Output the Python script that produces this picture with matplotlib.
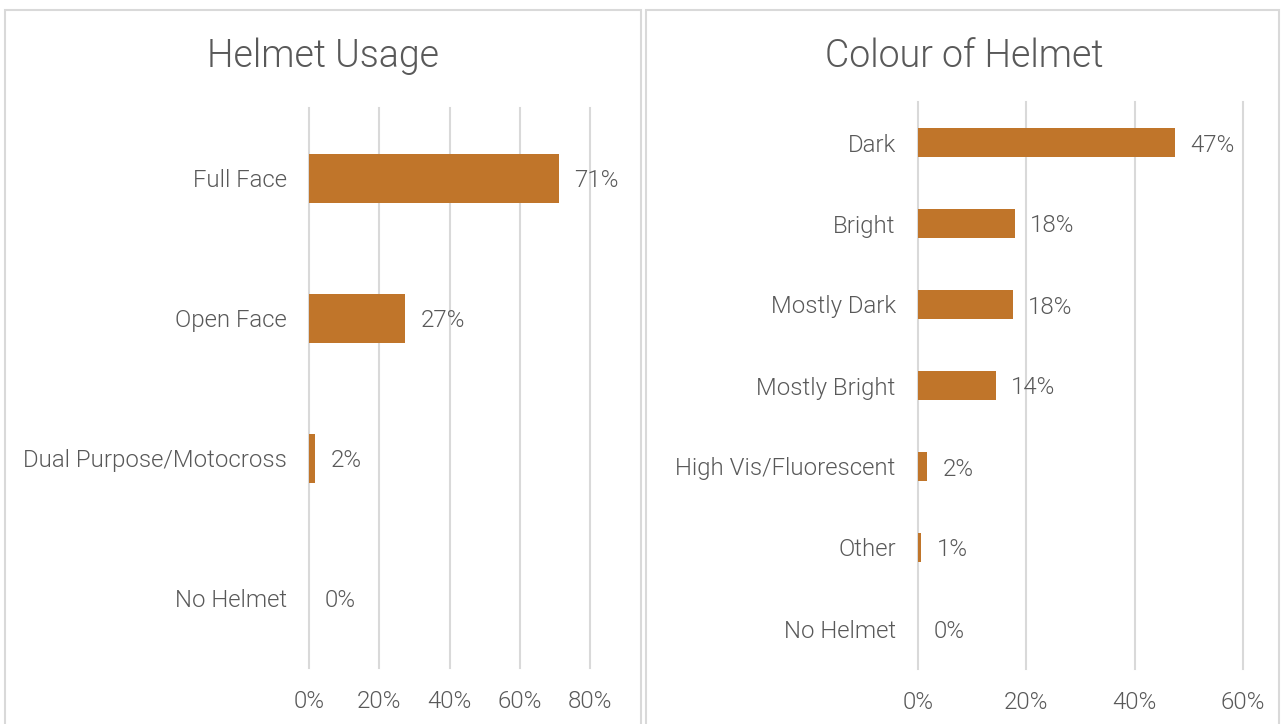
"""Helmet usage and helmet colour bar charts."""

import matplotlib.pyplot as plt
from matplotlib.patches import Rectangle
from matplotlib.ticker import PercentFormatter

plt.rcParams['font.family'] = ['Roboto', 'DejaVu Sans']

usage_labels = ['Full Face', 'Open Face', 'Dual Purpose/Motocross', 'No Helmet']
usage_values = [0.711, 0.274, 0.016, 0.0]
usage_ticks = [0, 0.2, 0.4, 0.6, 0.8]

colour_labels = ['Dark', 'Bright', 'Mostly Dark', 'Mostly Bright',
                 'High Vis/Fluorescent', 'Other', 'No Helmet']
colour_values = [0.474, 0.179, 0.175, 0.144, 0.017, 0.006, 0.0]
colour_ticks = [0, 0.2, 0.4, 0.6]

BAR = '#C0752A'
TEXT = '#595959'
GRID = '#D9D9D9'
FS = 17.3
WT = 300
W, H = 1282, 724


def px(x0, y0, x1, y1):
    """Pixel box (top-left origin) to figure-fraction rect."""
    return [x0 / W, 1 - y1 / H, (x1 - x0) / W, (y1 - y0) / H]


def bar_panel(ax, labels, values, ticks, offset):
    ypos = list(range(len(labels)))
    ax.barh(ypos, values, height=0.35, color=BAR, zorder=3)
    for y, v in zip(ypos, values):
        ax.text(v + offset, y, f'{v:.0%}', va='center_baseline', ha='left',
                fontsize=FS, color=TEXT, fontweight=WT)
    ax.set_ylim(len(labels) - 0.5, -0.5)
    ax.set_yticks(ypos)
    ax.set_yticklabels(labels, fontsize=FS, color=TEXT, fontweight=WT,
                       va='center_baseline')
    ax.set_xlim(ticks[0], ticks[-1])
    ax.set_xticks(ticks)
    ax.xaxis.set_major_formatter(PercentFormatter(1.0, decimals=0))
    for lab in ax.get_xticklabels():
        lab.set_fontsize(FS)
        lab.set_color(TEXT)
        lab.set_fontweight(WT)
    ax.tick_params(axis='both', length=0)
    ax.tick_params(axis='y', pad=16)
    ax.tick_params(axis='x', pad=16)
    for s in ax.spines.values():
        s.set_visible(False)
    ax.grid(axis='x', color=GRID, linewidth=1.5, zorder=0)
    ax.set_axisbelow(True)
    # keep the last gridline visible at the right edge
    for g in ax.get_xgridlines():
        g.set_clip_on(False)


fig = plt.figure(figsize=(W / 100, H / 100), dpi=100)

# panel frames, open at the bottom edge
for left, right in [(5, 641), (646, 1279)]:
    fig.add_artist(Rectangle((left / W, -0.05), (right - left) / W,
                             1.05 - 10 / H, transform=fig.transFigure,
                             fill=False, edgecolor=GRID, linewidth=1.5))

ax1 = fig.add_axes(px(309, 108, 590, 668))
bar_panel(ax1, usage_labels, usage_values, usage_ticks, 0.045)
fig.text(323 / W, 1 - 52 / H, 'Helmet Usage', ha='center', va='center_baseline',
         fontsize=27, color=TEXT, fontweight=WT)

ax2 = fig.add_axes(px(918, 102, 1243, 669))
bar_panel(ax2, colour_labels, colour_values, colour_ticks, 0.028)
fig.text(964 / W, 1 - 52 / H, 'Colour of Helmet', ha='center',
         va='center_baseline', fontsize=27, color=TEXT, fontweight=WT)

fig.savefig('out.png', dpi=100)
